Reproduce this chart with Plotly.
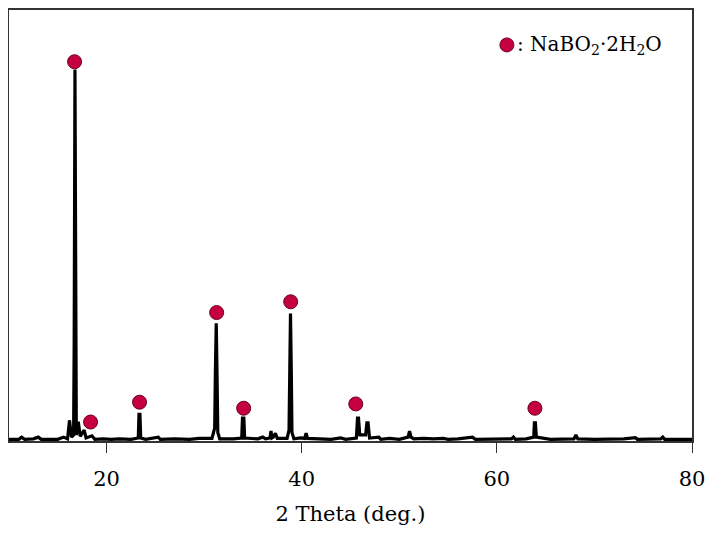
import plotly.graph_objects as go

# XRD pattern (2θ in degrees, intensity in arbitrary units)
two_theta = [10.0, 11.0, 11.3, 11.6, 12.5, 13.0, 13.3, 15.0, 15.6, 16.0, 16.2, 16.4,
             16.62, 16.68, 16.76, 16.84, 16.9, 17.1, 17.3, 17.7, 17.9, 18.5, 18.8,
             19.6, 20.5, 21.3, 22.5, 23.25, 23.32, 23.42, 23.5, 24.0, 25.3, 25.5,
             27.0, 28.5, 29.5, 30.8, 31.08, 31.15, 31.24, 31.32, 31.4, 31.6, 33.0,
             33.85, 33.93, 34.07, 34.15, 35.5, 36.0, 36.3, 36.75, 36.85, 36.95,
             37.1, 37.3, 37.5, 38.5, 38.7, 38.76, 38.85, 38.94, 39.0, 39.2, 39.9,
             40.3, 40.45, 40.6, 41.5, 43.0, 44.0, 44.5, 45.6, 45.72, 45.82, 45.95,
             46.55, 46.68, 46.8, 46.95, 47.9, 48.1, 49.0, 50.0, 50.9, 51.05, 51.2,
             51.5, 52.5, 53.5, 54.5, 55.0, 56.0, 57.2, 57.5, 57.8, 59.0, 61.5, 61.7,
             61.9, 63.0, 63.78, 63.85, 63.95, 64.05, 64.5, 65.5, 67.9, 68.1, 68.3,
             70.0, 73.0, 73.9, 74.2, 74.4, 76.8, 77.0, 77.2, 80.0]
intensity = [0.4, 0.4, 0.9, 0.4, 0.5, 0.9, 0.4, 0.4, 0.9, 0.5, 4.8, 0.9,
             1.4, 22.6, 86.2, 22.6, 1.4, 4.5, 1.1, 2.5, 0.7, 1.2, 0.4,
             0.5, 0.4, 0.5, 0.4, 0.7, 6.2, 6.2, 0.7, 0.4, 0.9, 0.4,
             0.5, 0.4, 0.6, 0.6, 3.0, 15.7, 27.3, 15.7, 2.0, 0.5, 0.5,
             0.7, 5.3, 5.3, 0.7, 0.5, 0.9, 0.5, 0.7, 2.3, 0.7,
             0.9, 1.8, 0.6, 0.6, 2.5, 14.8, 29.6, 14.8, 2.0, 0.5, 0.7,
             0.6, 1.8, 0.6, 0.5, 0.4, 0.7, 0.4, 0.7, 5.3, 5.3, 1.4,
             1.4, 4.2, 4.2, 0.7, 0.9, 0.4, 0.6, 0.4, 0.9, 2.3, 0.9,
             0.5, 0.6, 0.5, 0.6, 0.4, 0.5, 0.9, 0.9, 0.4, 0.4, 0.5, 0.9,
             0.4, 0.5, 0.9, 4.2, 4.2, 0.9, 0.7, 0.4, 0.5, 1.4, 0.5,
             0.4, 0.5, 0.8, 0.8, 0.4, 0.5, 0.9, 0.4, 0.4]

# NaBO2·2H2O reflection markers
marker_x = [16.72, 18.36, 23.38, 31.28, 34.05, 38.87, 45.54, 63.9]
marker_y = [88.0, 4.4, 9.0, 29.8, 7.6, 32.3, 8.6, 7.6]

tick_vals = [20, 40, 60, 80]
tick_text = ["20", "40", "60", "80"]
legend_label = ": NaBO<sub>2</sub>·2H<sub>2</sub>O"

FONT = "DejaVu Serif"
MARKER_FILL = "#C5003F"
MARKER_EDGE = "#6a0020"

fig = go.Figure()
fig.add_trace(go.Scatter(x=two_theta, y=intensity, mode="lines",
                         line=dict(color="black", width=3.2),
                         showlegend=False, hoverinfo="skip"))
fig.add_trace(go.Scatter(x=marker_x, y=marker_y, mode="markers",
                         marker=dict(size=14, color=MARKER_FILL,
                                     line=dict(color=MARKER_EDGE, width=1)),
                         name="NaBO2·2H2O", showlegend=False))

# legend drawn as a symbol + text inside the plot frame
fig.add_shape(type="circle", xref="paper", yref="paper",
              xsizemode="pixel", ysizemode="pixel",
              xanchor=0.729, yanchor=0.919,
              x0=-7, x1=7, y0=-7, y1=7,
              fillcolor=MARKER_FILL, line=dict(color=MARKER_EDGE, width=1))
fig.add_annotation(xref="paper", yref="paper", x=0.741, y=0.919,
                   xanchor="left", yanchor="middle", showarrow=False,
                   text=legend_label,
                   font=dict(family=FONT, size=20, color="black"))

fig.update_layout(
    width=698, height=518,
    margin=dict(l=1, r=14, t=0, b=85),
    paper_bgcolor="white", plot_bgcolor="white",
    font=dict(family=FONT, color="black", size=21),
    xaxis=dict(range=[10, 80], tickvals=tick_vals, ticktext=tick_text,
               ticks="outside", ticklen=10, tickwidth=1, tickcolor="#333",
               showline=True, mirror=True, linecolor="#333", linewidth=1.5,
               showgrid=False, zeroline=False,
               tickfont=dict(family=FONT, size=21),
               ticklabelstandoff=8, ticklabeloverflow="allow",
               title=dict(text="2 Theta (deg.)", standoff=19,
                          font=dict(family=FONT, size=21))),
    yaxis=dict(range=[0, 100], showticklabels=False, ticks="",
               showline=True, mirror=True, linecolor="#333", linewidth=1.5,
               showgrid=False, zeroline=False),
)

fig.write_html("out.html", config={"displayModeBar": False},
               post_script="document.body.style.margin='0';"
                           "document.body.style.padding='8px 0 0 8px';")
